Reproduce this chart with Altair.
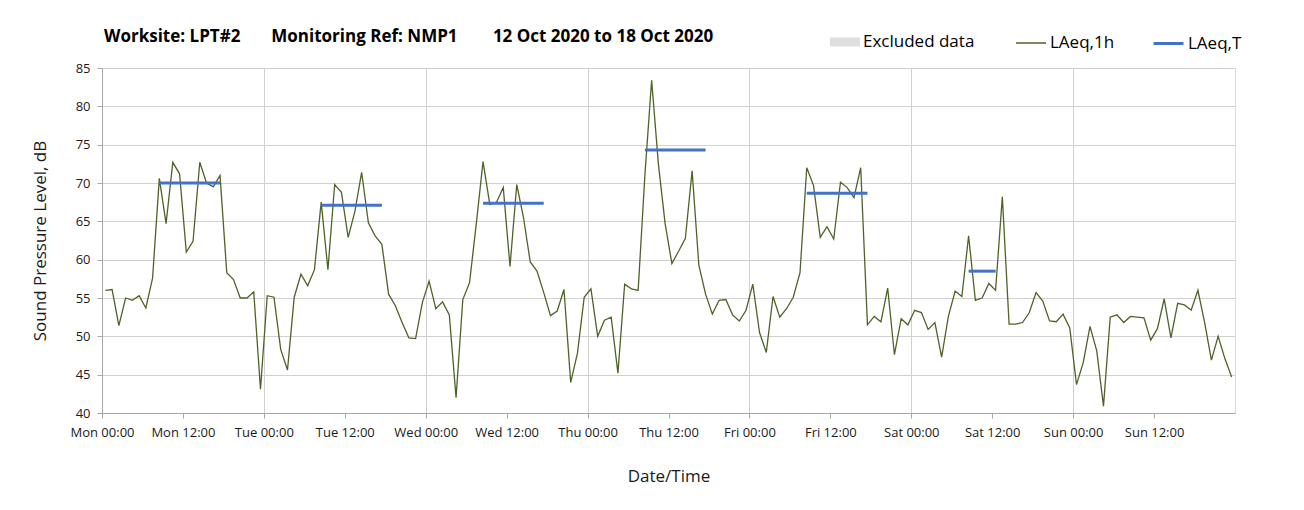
import altair as alt
import pandas as pd

# ---- data (hourly LAeq,1h, Mon 12 Oct 00:00 .. Sun 18 Oct 23:00) ----
laeq_1h = [
    # Mon
    56.0, 56.1, 51.4, 55.0, 54.7, 55.3, 53.7, 57.6, 70.6, 64.7, 72.7, 71.2,
    61.0, 62.4, 72.7, 70.0, 69.5, 71.0, 58.3, 57.4, 55.0, 55.0, 55.8, 43.1,
    # Tue
    55.3, 55.1, 48.3, 45.6, 55.1, 58.1, 56.6, 58.7, 67.5, 58.7, 69.8, 68.8,
    62.9, 66.3, 71.4, 64.8, 63.1, 62.0, 55.5, 54.0, 51.8, 49.8, 49.7, 54.4,
    # Wed
    57.2, 53.6, 54.5, 52.8, 42.0, 54.8, 57.0, 64.7, 72.8, 67.2, 67.5, 69.4,
    59.1, 69.8, 65.5, 59.7, 58.5, 55.7, 52.7, 53.3, 56.1, 44.0, 47.8, 55.1,
    # Thu
    56.2, 50.0, 52.1, 52.5, 45.2, 56.8, 56.2, 56.0, 71.0, 83.4, 72.5, 64.7,
    59.5, 61.1, 62.8, 71.6, 59.3, 55.5, 52.9, 54.7, 54.8, 52.8, 52.0, 53.4,
    # Fri
    56.8, 50.5, 47.9, 55.2, 52.5, 53.6, 55.1, 58.3, 72.0, 69.7, 62.9, 64.3,
    62.7, 70.1, 69.4, 68.1, 72.0, 51.5, 52.6, 51.9, 56.3, 47.6, 52.3, 51.5,
    # Sat
    53.4, 53.1, 50.9, 51.8, 47.3, 52.6, 55.9, 55.2, 63.1, 54.7, 55.0, 56.9,
    56.0, 68.2, 51.6, 51.6, 51.8, 53.1, 55.7, 54.6, 52.0, 51.9, 52.9, 51.1,
    # Sun
    43.7, 46.6, 51.3, 48.1, 40.9, 52.5, 52.8, 51.8, 52.6, 52.5, 52.4, 49.5,
    51.0, 54.9, 49.8, 54.3, 54.1, 53.4, 56.0, 51.8, 46.9, 50.0, 47.1, 44.7,
]
hour_times = [t.strftime("%Y-%m-%dT%H:%M:%S")
              for t in pd.date_range("2020-10-12 00:30", periods=len(laeq_1h), freq="h")]

period_start = ["2020-10-12T08:30:00", "2020-10-13T08:30:00", "2020-10-14T08:30:00",
                "2020-10-15T08:30:00", "2020-10-16T08:30:00", "2020-10-17T08:30:00"]
period_end = ["2020-10-12T17:30:00", "2020-10-13T17:30:00", "2020-10-14T17:30:00",
              "2020-10-15T17:30:00", "2020-10-16T17:30:00", "2020-10-17T12:30:00"]
laeq_t = [70.0, 67.1, 67.35, 74.3, 68.65, 58.5]

excluded_name = "Excluded data"
hourly_name = "LAeq,1h"
period_name = "LAeq,T"
excluded_color = "#D0D0D0"
hourly_color = "#4F6228"
period_color = "#4472C4"

tick_times = [t.strftime("%Y-%m-%dT%H:%M:%S")
              for t in pd.date_range("2020-10-12 00:00", "2020-10-18 12:00", freq="12h")]
y_ticks = [40, 45, 50, 55, 60, 65, 70, 75, 80, 85]

title_text = ("Worksite: LPT#2" + "\u00a0" * 7 + "Monitoring Ref: NMP1" + "\u00a0" * 8
              + "12 Oct 2020 to 18 Oct 2020")

FONT = "Open Sans"

df_h = pd.DataFrame({"time": hour_times, "level": laeq_1h, "series": hourly_name})
df_t = pd.DataFrame({"start": period_start, "end": period_end, "level": laeq_t, "series": period_name})
df_x = pd.DataFrame({"time": pd.Series([], dtype=str), "level": pd.Series([], dtype=float),
                     "series": pd.Series([], dtype=str)})

x_scale = alt.Scale(domain=["2020-10-12T00:00:00", "2020-10-19T00:00:00"])
y_scale = alt.Scale(domain=[40, 85], nice=False, zero=False)

LEG_Y = -41


def leg(x, symbol, stroke_w):
    return alt.Legend(
        title=None, orient="none", direction="horizontal",
        legendX=x, legendY=LEG_Y,
        symbolType=symbol, symbolSize=900, symbolStrokeWidth=stroke_w,
        labelFont=FONT, labelFontSize=17, labelColor="#000000",
        labelOffset=3, labelLimit=300,
    )


x_axis = alt.Axis(
    title="Date/Time",
    values=tick_times,
    format="%a %H:%M",
    labelFont=FONT, labelFontSize=13, labelColor="#1a1a1a",
    titleFont=FONT, titleFontSize=17, titleFontWeight="normal", titleColor="#1a1a1a",
    titlePadding=29,
    labelPadding=8,
    tickSize=5,
    tickColor="#A6A6A6",
    domainColor="#A6A6A6",
    gridColor="#D0D0D0",
    gridOpacity={"condition": {"test": "hours(datum.value) === 0", "value": 1}, "value": 0},
    labelFlush=False,
    labelOverlap=False,
)

y_axis = alt.Axis(
    title="Sound Pressure Level, dB",
    values=y_ticks,
    tickCount=10,
    labelFont=FONT, labelFontSize=13, labelColor="#1a1a1a",
    titleFont=FONT, titleFontSize=17, titleFontWeight="normal", titleColor="#1a1a1a",
    titlePadding=26,
    labelPadding=7,
    tickSize=5,
    tickColor="#A6A6A6",
    domainColor="#A6A6A6",
    gridColor="#D0D0D0",
    labelOverlap=False,
    labelFlush=False,
)

excluded = alt.Chart(df_x).mark_point(filled=True).encode(
    x=alt.X("time:T", scale=x_scale, axis=x_axis),
    y=alt.Y("level:Q", scale=y_scale, axis=y_axis),
    fill=alt.Fill("series:N",
                  scale=alt.Scale(domain=[excluded_name], range=[excluded_color]),
                  legend=leg(728, "M-1,-0.3H1V0.3H-1Z", 0)),
)

line = alt.Chart(df_h).mark_line(strokeWidth=1.3).encode(
    x=alt.X("time:T", scale=x_scale, axis=x_axis),
    y=alt.Y("level:Q", scale=y_scale, axis=y_axis),
    color=alt.Color("series:N",
                    scale=alt.Scale(domain=[hourly_name], range=[hourly_color]),
                    legend=leg(913, "stroke", 1.5)),
)

rule = alt.Chart(df_t).mark_rule(strokeWidth=3).encode(
    x=alt.X("start:T", scale=x_scale, axis=x_axis),
    x2="end:T",
    y=alt.Y("level:Q", scale=y_scale, axis=y_axis),
    stroke=alt.Stroke("series:N",
                      scale=alt.Scale(domain=[period_name], range=[period_color]),
                      legend=leg(1050, "stroke", 3)),
)

chart = alt.layer(excluded, line, rule).properties(
    width=1133,
    height=345,
    padding={"left": 94, "top": 60, "right": 61, "bottom": 89},
    autosize=alt.AutoSizeParams(type="none"),
    title=alt.TitleParams(
        text=title_text, anchor="start", frame="group", font=FONT, fontSize=17,
        fontWeight="bold", color="#000000", offset=0, dx=2, dy=19,
    ),
).resolve_scale(color="independent", fill="independent", stroke="independent"
).configure_view(stroke="#BFBFBF").configure(background="white")

chart.save("out.html", embed_options={"renderer": "svg", "actions": False})
